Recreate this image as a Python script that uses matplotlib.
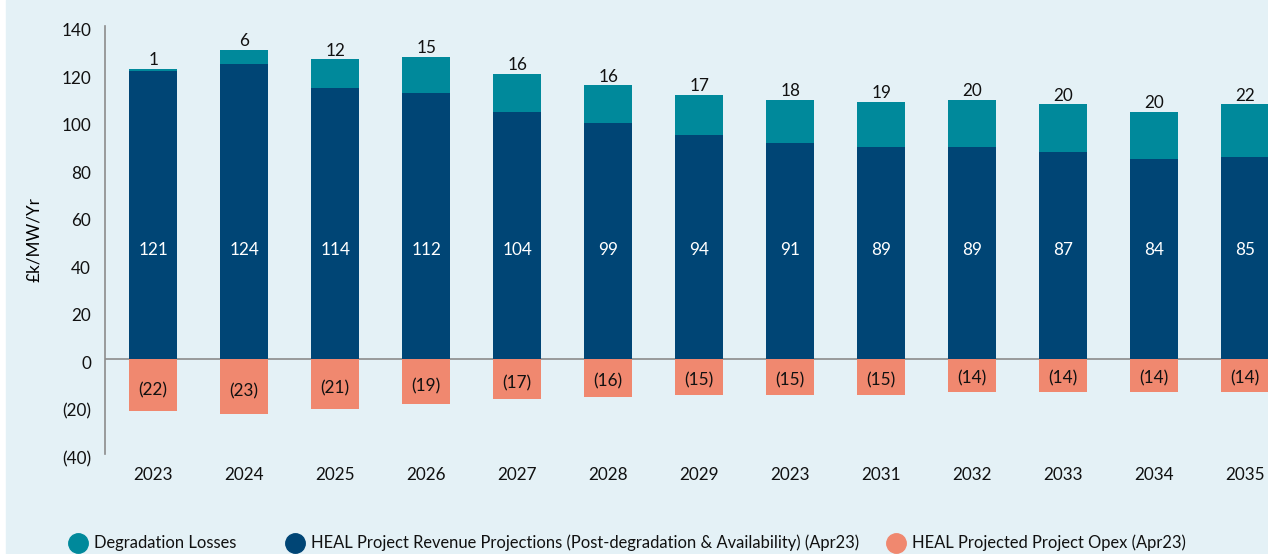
import matplotlib.pyplot as plt
from matplotlib.lines import Line2D
import matplotlib.patches as mpatches
import matplotlib.transforms as mtransforms
import numpy as np

# dati
anni = ['2023', '2024', '2025', '2026', '2027', '2028', '2029', '2023',
        '2031', '2032', '2033', '2034', '2035']
ricavi = [121, 124, 114, 112, 104, 99, 94, 91, 89, 89, 87, 84, 85]
degradazione = [1, 6, 12, 15, 16, 16, 17, 18, 19, 20, 20, 20, 22]
opex = [-22, -23, -21, -19, -17, -16, -15, -15, -15, -14, -14, -14, -14]

etichette_legenda = ['Degradation Losses',
                     'HEAL Project Revenue Projections (Post-degradation & Availability) (Apr23)',
                     'HEAL Projected Project Opex (Apr23)']

c_teal = '#00899b'
c_navy = '#004575'
c_salmon = '#f0886f'
c_sfondo = '#e4f1f6'
fs = 12.3
W, H = 1268, 554

plt.rcParams['font.family'] = ['Lato', 'DejaVu Sans']
plt.rcParams['font.size'] = fs

fig = plt.figure(figsize=(W / 100, H / 100), dpi=100, facecolor='white')
# sfondo azzurro (striscia bianca a sinistra)
fig.patches.append(mpatches.Rectangle((6 / W, 0), 1, 1, transform=fig.transFigure,
                                      color=c_sfondo, zorder=-10))
ax = fig.add_axes([105 / W, 1 - 454 / H, 1 - 105 / W, (454 - 26) / H])
ax.set_facecolor(c_sfondo)

x = np.arange(len(anni))
w = 0.53
ax.bar(x, ricavi, w, color=c_navy, zorder=2)
ax.bar(x, degradazione, w, bottom=ricavi, color=c_teal, zorder=2)
ax.bar(x, opex, w, color=c_salmon, zorder=2)

for i in range(len(anni)):
    ax.text(x[i], 46, str(ricavi[i]), ha='center', va='center', color='white', fontsize=fs, zorder=3)
    ax.annotate(str(degradazione[i]), (x[i], ricavi[i] + degradazione[i]), xytext=(0, 0.5),
                textcoords='offset points', ha='center', va='bottom', color='#111111', fontsize=fs)
    ax.text(x[i], opex[i] * 0.6, '(%d)' % -opex[i], ha='center', va='center', color='#111111',
            fontsize=fs, zorder=3)

ax.axhline(0, color='#8c8c8c', lw=1.2, zorder=1)
ax.set_xlim(-0.53, 12.25)
ax.set_ylim(-40, 140)
ax.set_xticks(x)
ax.set_xticklabels(anni)
yt = np.arange(-40, 141, 20)
ax.set_yticks(yt)
ax.set_yticklabels(['(%d)' % -v if v < 0 else str(v) for v in yt])
ax.tick_params(axis='both', length=0, labelsize=fs, colors='#111111')
ax.tick_params(axis='x', pad=9.5)
ax.tick_params(axis='y', pad=10)
# etichette y leggermente più in basso come nell'originale
sposta = mtransforms.ScaledTranslation(0, -3.5 / 100, fig.dpi_scale_trans)
for lab in ax.get_yticklabels():
    lab.set_transform(lab.get_transform() + sposta)
for s in ['top', 'right', 'bottom']:
    ax.spines[s].set_visible(False)
ax.spines['left'].set_color('#8c8c8c')
ax.spines['left'].set_linewidth(1.2)
ax.set_ylabel('£k/MW/Yr', fontsize=fs)
ax.yaxis.set_label_coords(-0.054, 0.5)

# legenda in basso, voci posizionate a mano
pos_cerchi = [78, 295, 896]
y_leg = 1 - 543 / H
for px, col, testo in zip(pos_cerchi, [c_teal, c_navy, c_salmon], etichette_legenda):
    fig.add_artist(Line2D([px / W], [y_leg], transform=fig.transFigure, marker='o',
                          markersize=14, color=col, ls='none'))
    fig.text((px + 16) / W, y_leg, testo, ha='left', va='center', fontsize=11.9, color='#111111')

fig.savefig('out.png', dpi=100, facecolor=fig.get_facecolor())
